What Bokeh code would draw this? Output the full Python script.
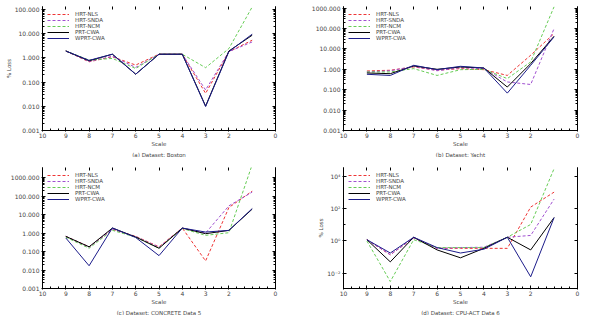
from bokeh.plotting import figure
from bokeh.models import (Range1d, FixedTicker, PrintfTickFormatter, LinearAxis, LogAxis,
                          Title, Legend, LegendItem, CustomJSTickFormatter)
from bokeh.layouts import gridplot
from bokeh.embed import file_html
from bokeh.resources import INLINE

# ---------------- data ----------------
x_vals = [9, 8, 7, 6, 5, 4, 3, 2, 1]
x_ticks = [10, 9, 8, 7, 6, 5, 4, 3, 2, 0]
series_names = ["HRT-NLS", "HRT-SNDA", "HRT-NCM", "PRT-CWA", "WPRT-CWA"]

a_hrt_nls = [1.9, 0.68, 1.1, 0.5, 1.4, 1.4, 0.034, 1.76, 5.3]
a_hrt_snda = [1.9, 0.7, 1.15, 0.4, 1.4, 1.4, 0.047, 1.8, 4.5]
a_hrt_ncm = [1.9, 0.8, 0.94, 0.36, 1.4, 1.4, 0.39, 2.4, 125]
a_prt_cwa = [1.9, 0.75, 1.4, 0.21, 1.4, 1.4, 0.0102, 1.9, 8.5]
a_wprt_cwa = [1.9, 0.78, 1.4, 0.21, 1.4, 1.4, 0.0097, 1.8, 9.4]

b_hrt_nls = [0.83, 0.9, 1.3, 0.9, 1.08, 0.96, 0.5, 4.9, 57]
b_hrt_snda = [0.75, 0.85, 1.4, 0.85, 1.2, 1.08, 0.24, 0.18, 100]
b_hrt_ncm = [0.74, 0.74, 1.08, 0.5, 0.96, 1.0, 0.35, 2.3, 1170]
b_prt_cwa = [0.66, 0.61, 1.46, 1.0, 1.3, 1.16, 0.135, 1.9, 42]
b_wprt_cwa = [0.57, 0.5, 1.57, 0.96, 1.4, 1.16, 0.068, 1.57, 39]

c_hrt_nls = [0.66, 0.18, 1.57, 0.66, 0.18, 1.85, 0.031, 24, 185]
c_hrt_snda = [0.66, 0.17, 1.6, 0.64, 0.17, 1.85, 1.0, 29.5, 164]
c_hrt_ncm = [0.6, 0.15, 1.4, 0.6, 0.15, 1.75, 0.75, 1.04, 5000]
c_prt_cwa = [0.66, 0.18, 1.85, 0.61, 0.15, 1.85, 0.92, 1.39, 19.6]
c_wprt_cwa = [0.54, 0.017, 1.9, 0.57, 0.06, 1.85, 1.13, 1.39, 21]

d_hrt_nls = [1.2, 0.14, 1.57, 0.35, 0.35, 0.35, 0.35, 125, 1050]
d_hrt_snda = [1.2, 0.14, 1.57, 0.35, 0.39, 0.41, 1.7, 2.2, 390]
d_hrt_ncm = [1.0, 0.0031, 1.2, 0.39, 0.39, 0.39, 1.7, 10.5, 30000]
d_prt_cwa = [1.2, 0.051, 1.7, 0.28, 0.091, 0.35, 1.7, 0.28, 28]
d_wprt_cwa = [1.2, 0.18, 1.7, 0.39, 0.18, 0.31, 1.7, 0.0061, 28]

y_ticks_a = [0.001, 0.01, 0.1, 1, 10, 100]
y_ticks_b = [0.001, 0.01, 0.1, 1, 10, 100, 1000]
y_ticks_c = [0.001, 0.01, 0.1, 1, 10, 100, 1000]
y_ticks_d = [0.01, 1, 100, 10000]

captions = ["(a) Dataset: Boston", "(b) Dataset: Yacht",
            "(c) Dataset: CONCRETE Data 5", "(d) Dataset: CPU-ACT Data 6"]
x_label = "Scale"
y_label = "% Loss"

# ---------------- styles ----------------
COLORS = ["#ee3535", "#a050d0", "#66cc55", "#000000", "#1c1c8a"]
DASHES = ["3 2", "3 2", "3 2", "solid", "solid"]
FONT = "DejaVu Sans"
FS = "6px"
FS2 = "5.5px"
TXT = "#444444"


def minor_log(lo, hi):
    out = []
    d = lo
    while d < hi * 0.999:
        for k in range(2, 10):
            out.append(d * k)
        d *= 10
    return out


x_minor = [i / 3 for i in range(0, 31)]


def blank_fmt():
    return CustomJSTickFormatter(code="return '';")


def make_panel(w, h, data, y_start, y_end, yticks, yminor, yfmt, ylabel, caption,
               ml, mr, mt):
    p = figure(width=w, height=h, x_range=Range1d(10, 0), y_range=Range1d(y_start, y_end),
               y_axis_type="log", output_backend="svg", toolbar_location=None,
               min_border_left=ml, min_border_right=mr, min_border_top=mt, min_border_bottom=0)
    p.grid.visible = False
    p.outline_line_color = None
    items = []
    for name, vals, col, dash in zip(series_names, data, COLORS, DASHES):
        r = p.line(x_vals, vals, line_color=col, line_dash=dash, line_width=1)
        items.append(LegendItem(label=name, renderers=[r]))
    leg = Legend(items=items, location="top_left", margin=5, padding=0, spacing=0,
                 glyph_width=22, glyph_height=6, label_height=6, label_standoff=6,
                 label_text_font_size=FS2, label_text_font=FONT, label_text_color=TXT,
                 background_fill_alpha=0, border_line_color=None)
    p.add_layout(leg)

    xt = FixedTicker(ticks=x_ticks, minor_ticks=x_minor)
    yt = FixedTicker(ticks=yticks, minor_ticks=yminor)

    xa = p.xaxis[0]
    xa.ticker = xt
    xa.axis_label = x_label
    ya = p.yaxis[0]
    ya.ticker = yt
    ya.formatter = yfmt
    if ylabel:
        ya.axis_label = ylabel
    for ax in (xa, ya):
        ax.major_label_text_font_size = FS
        ax.major_label_text_font = FONT
        ax.major_label_text_color = TXT
        ax.axis_label_text_font_size = FS2
        ax.axis_label_text_font = FONT
        ax.axis_label_text_font_style = "normal"
        ax.axis_label_text_color = TXT
        ax.major_tick_in = 3
        ax.major_tick_out = 1
        ax.minor_tick_in = 2
        ax.minor_tick_out = 0
        ax.major_label_standoff = 2
        ax.axis_label_standoff = 0
    xa.major_label_standoff = 1

    top = LinearAxis(ticker=xt, formatter=blank_fmt(), major_label_standoff=0,
                     major_label_text_font_size="1px",
                     axis_line_color=None, major_tick_in=3, major_tick_out=0,
                     minor_tick_in=0, minor_tick_out=0)
    p.add_layout(top, "above")
    right = LogAxis(ticker=yt, formatter=blank_fmt(), major_label_standoff=0,
                    major_label_text_font_size="1px",
                    major_tick_in=3, major_tick_out=0, minor_tick_in=2, minor_tick_out=0)
    p.add_layout(right, "right")

    t = Title(text=caption, align="center", text_font_size=FS2, text_font=FONT,
              text_font_style="normal", text_color=TXT, standoff=0, offset=0)
    p.add_layout(t, "below")
    return p


fmt3 = PrintfTickFormatter(format="%.3f")
sup_fmt = CustomJSTickFormatter(code="""
const e = Math.round(Math.log10(tick));
const sup = {'-':'\\u207b','0':'\\u2070','1':'\\u00b9','2':'\\u00b2','3':'\\u00b3','4':'\\u2074','5':'\\u2075','6':'\\u2076','7':'\\u2077','8':'\\u2078','9':'\\u2079'};
return '10' + String(e).split('').map(c => sup[c]).join('');
""")

pa = make_panel(292, 157, [a_hrt_nls, a_hrt_snda, a_hrt_ncm, a_prt_cwa, a_wprt_cwa],
                0.001, 130, y_ticks_a, minor_log(0.001, 100), fmt3, y_label, captions[0], 42, 17, 6)
pb = make_panel(292, 157, [b_hrt_nls, b_hrt_snda, b_hrt_ncm, b_prt_cwa, b_wprt_cwa],
                0.001, 1200, y_ticks_b, minor_log(0.001, 1000), fmt3, None, captions[1], 51, 7, 6)
pc = make_panel(292, 158, [c_hrt_nls, c_hrt_snda, c_hrt_ncm, c_prt_cwa, c_wprt_cwa],
                0.001, 3500, y_ticks_c, minor_log(0.001, 1000), fmt3, None, captions[2], 42, 15, 10)
pd_ = make_panel(292, 158, [d_hrt_nls, d_hrt_snda, d_hrt_ncm, d_prt_cwa, d_wprt_cwa],
                 0.00115, 35000, y_ticks_d, [10], sup_fmt, y_label, captions[3], 49, 7, 10)

grid = gridplot([[pa, pb], [pc, pd_]], toolbar_location=None)

open("out.html", "w").write(file_html(grid, INLINE))
